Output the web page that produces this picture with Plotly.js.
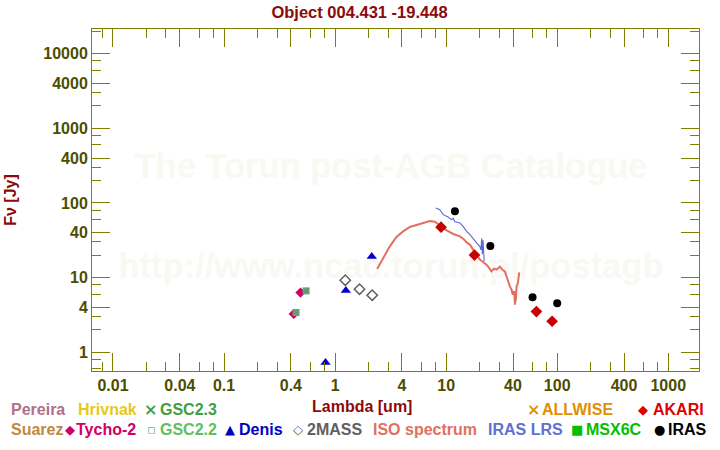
<!DOCTYPE html>
<html><head><meta charset="utf-8">
<script src="https://cdn.plot.ly/plotly-3.0.1.min.js"></script>
<style>html,body{margin:0;padding:0;background:#fff}#chart{width:720px;height:450px}</style>
</head><body><div id="chart"></div>
<script>
// ---- data (wavelength in um, flux in Jy) ----
const tychoLam = [0.488, 0.425];
const tychoFlux = [6.29, 3.26];
const gsc22Lam = [0.548, 0.445];
const gsc22Flux = [6.63, 3.40];
const gsc23Lam = [0.548, 0.445];
const gsc23Flux = [6.63, 3.40];
const denisLam = [0.82, 1.25, 2.14];
const denisFlux = [0.726, 6.69, 19.1];
const twomassLam = [1.235, 1.66, 2.16];
const twomassFlux = [9.23, 6.99, 5.81];
const akariLam = [9, 18, 65, 90];
const akariFlux = [47.4, 20.0, 3.50, 2.60];
const irasLam = [12, 25, 60, 100];
const irasFlux = [77.6, 26.4, 5.46, 4.54];
const isoLam = [2.39, 2.71, 3.11, 3.57, 4.10, 4.71, 5.41, 6.21, 7.13, 7.91, 8.77, 10.1, 11.6, 13.3, 14.3, 15.3, 16.4, 17.5, 18.8, 20.1, 21.5, 23.1, 24.3, 25.6, 27.0, 28.4, 30.5, 32.5, 33.8, 36.2, 37.5, 38.8, 39.8, 41.0, 41.6, 42.5, 43.1, 44.3, 45.5];
const isoFlux = [13.0, 18.3, 26.2, 35.0, 41.6, 47.7, 50.7, 54.9, 57.4, 56.1, 49.6, 42.9, 38.4, 35.7, 33.0, 29.6, 27.5, 23.7, 21.0, 17.4, 16.2, 14.9, 13.6, 12.1, 13.2, 12.8, 14.0, 12.5, 12.1, 8.47, 7.6, 6.89, 5.9, 6.6, 4.33, 5.2, 7.62, 8.5, 11.7];
const lrsLam = [8.08, 8.77, 9.40, 10.4, 11.2, 11.6, 12.0, 13.3, 14.2, 15.3, 16.4, 17.5, 18.8, 20.1, 20.6, 20.9, 21.2, 21.5, 21.8, 22.0];
const lrsFlux = [85.7, 81.3, 69.7, 64.9, 59.7, 62.0, 56.0, 54.0, 48.6, 41.6, 37.6, 32.9, 29.1, 26.2, 23.5, 33.5, 20.5, 31.5, 18.0, 16.5];

const xTickVals = [0.01, 0.04, 0.1, 0.4, 1, 4, 10, 40, 100, 400, 1000];
const xTickText = ['0.01', '0.04', '0.1', '0.4', '1', '4', '10', '40', '100', '400', '1000'];
const yTickVals = [1, 4, 10, 40, 100, 400, 1000, 4000, 10000];
const yTickText = ['1', '4', '10', '40', '100', '400', '1000', '4000', '10000'];

const titleText = 'Object 004.431 -19.448';

// legend entries
const legendNames = ['Pereira', 'Hrivnak', 'GSC2.3', 'ALLWISE', 'AKARI', 'Suarez', 'Tycho-2', 'GSC2.2', 'Denis', '2MASS', 'ISO spectrum', 'IRAS LRS', 'MSX6C', 'IRAS'];
const legendSymbols = ['', '', '×', '×', '◆', '', '◆', '▫', '▲', '◇', '', '', '■', '●'];
const legendColors = ['#b0708a', '#e6c81e', '#40a040', '#e09000', '#e00000', '#c08840', '#d0006a', '#60c060', '#0000c0', '#606060', '#e07060', '#6070d0', '#00c000', '#000000'];
const legendRow = [0, 0, 0, 0, 0, 1, 1, 1, 1, 1, 1, 1, 1, 1];
const legendTextX = [11, 78, 160, 542, 653, 11, 76, 160, 239, 307, 373, 488, 586, 668];
const legendSymX = [0, 0, 150, 533, 643, 0, 70, 151, 230, 298, 0, 0, 577, 659];

// ---- layout helpers ----
const W = 720, H = 450, L = 92, R = 699, T = 29, B = 371;
const px = x => (x - L) / (R - L);
const py = y => (B - y) / (B - T);
const FONT = 'Liberation Sans, Arial, sans-serif';

function minorVals(lo, hi) {
  const out = [];
  for (let e = lo; e <= hi; e++) for (const m of [2, 3, 6, 8]) out.push(m * Math.pow(10, e));
  return out;
}

const olive = '#808000';
const tickFont = {family: FONT, size: 16, color: '#4d4d00', weight: 700};

function axisBase(range, tv, tt, minor) {
  return {
    type: 'log', range: range, tickmode: 'array', tickvals: tv, ticktext: tt,
    ticks: 'inside', ticklen: 18, tickwidth: 1, tickcolor: olive,
    showline: true, linecolor: olive, linewidth: 1, mirror: 'allticks',
    showgrid: false, zeroline: false, tickfont: tickFont, fixedrange: true,
    minor: {tickmode: 'array', tickvals: minor, ticks: 'inside', ticklen: 9, tickwidth: 1, tickcolor: olive, showgrid: false}
  };
}

const xaxis = axisBase([-2.189, 3.277], xTickVals, xTickText, minorVals(-3, 3));
const yaxis = axisBase([-0.252, 4.331], yTickVals, yTickText, minorVals(-1, 4));
yaxis.title = {text: 'Fν [Jy]', font: {family: FONT, size: 16, color: '#8b0a0a', weight: 700}, standoff: 22};

const traces = [
  {x: isoLam, y: isoFlux, mode: 'lines', line: {color: '#e07060', width: 2}, name: 'ISO spectrum'},
  {x: lrsLam, y: lrsFlux, mode: 'lines', line: {color: '#5a6ad0', width: 1.1}, name: 'IRAS LRS'},
  {x: tychoLam, y: tychoFlux, mode: 'markers', marker: {symbol: 'diamond', size: 8, color: '#d0006a'}, name: 'Tycho-2'},
  {x: gsc22Lam, y: gsc22Flux, mode: 'markers', marker: {symbol: 'square', size: 7, color: '#52b452'}, name: 'GSC2.2'},
  {x: gsc23Lam, y: gsc23Flux, mode: 'markers', marker: {symbol: 'x-thin-open', size: 5, line: {color: '#3a9a3a', width: 1}}, name: 'GSC2.3'},
  {x: denisLam, y: denisFlux, mode: 'markers', marker: {symbol: 'triangle-up', size: 9, color: '#0000c8'}, name: 'Denis'},
  {x: twomassLam, y: twomassFlux, mode: 'markers', marker: {symbol: 'diamond-open', size: 8, color: '#606060', line: {width: 1.5, color: '#606060'}}, name: '2MASS'},
  {x: akariLam, y: akariFlux, mode: 'markers', marker: {symbol: 'diamond', size: 9, color: '#c80000'}, name: 'AKARI'},
  {x: irasLam, y: irasFlux, mode: 'markers', marker: {symbol: 'circle', size: 8, color: '#000000'}, name: 'IRAS'}
];

const annotations = [];
const rowY = [410, 429.5];
legendNames.forEach((n, i) => {
  const y = py(rowY[legendRow[i]]);
  annotations.push({xref: 'paper', yref: 'paper', x: px(legendTextX[i] - 2), y: y, xanchor: 'left', yanchor: 'middle',
    text: n, showarrow: false, font: {family: FONT, size: 16, color: legendColors[i], weight: 700}});
  if (legendSymbols[i]) {
    const isX = legendSymbols[i] === '×';
    annotations.push({xref: 'paper', yref: 'paper', x: px(legendSymX[i]), y: y, xanchor: 'center', yanchor: 'middle',
      text: legendSymbols[i], showarrow: false,
      font: {family: 'DejaVu Sans, sans-serif', size: isX ? 16 : 13, color: legendColors[i], weight: isX ? 700 : 400}});
  }
});
annotations.push({xref: 'paper', yref: 'paper', x: px(362), y: py(407), xanchor: 'center', yanchor: 'middle',
  text: 'Lambda [um]', showarrow: false, font: {family: FONT, size: 16, color: '#8b0a0a', weight: 700}});

const wmColor = '#faf8f3';
const shapes = [
  {type: 'rect', xref: 'paper', yref: 'paper', x0: px(391) - 0.47, x1: px(391) + 0.47, y0: py(162) - 0.06, y1: py(162) + 0.06,
    line: {width: 0}, fillcolor: 'rgba(0,0,0,0)', layer: 'below',
    label: {text: 'The Torun post-AGB Catalogue', textposition: 'middle center', font: {family: FONT, size: 34.5, color: wmColor, weight: 700}}},
  {type: 'rect', xref: 'paper', yref: 'paper', x0: px(391) - 0.47, x1: px(391) + 0.47, y0: py(262) - 0.06, y1: py(262) + 0.06,
    line: {width: 0}, fillcolor: 'rgba(0,0,0,0)', layer: 'below',
    label: {text: 'http://www.ncac.torun.pl/postagb', textposition: 'middle center', font: {family: FONT, size: 34.5, color: wmColor, weight: 700}}}
];

const layout = {
  width: W, height: H,
  margin: {l: L, r: W - R, t: T, b: H - B, pad: 0},
  paper_bgcolor: '#ffffff', plot_bgcolor: '#ffffff',
  showlegend: false,
  title: {text: titleText, x: 359.5 / W, xref: 'container', xanchor: 'center', y: 1 - 12 / H, yref: 'container', yanchor: 'middle',
    font: {family: FONT, size: 16.5, color: '#8b0a0a', weight: 700}},
  xaxis: xaxis, yaxis: yaxis,
  annotations: annotations, shapes: shapes
};

Plotly.newPlot('chart', traces, layout, {displayModeBar: false, staticPlot: true});
</script></body></html>
